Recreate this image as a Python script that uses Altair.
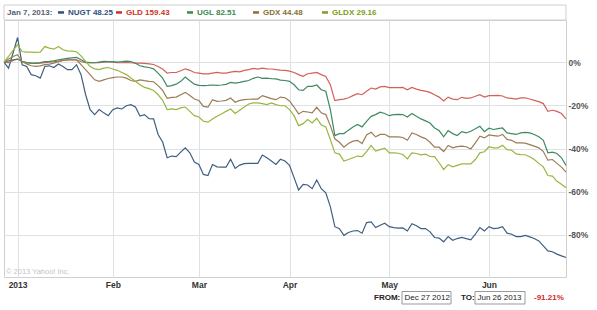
import altair as alt
import pandas as pd

# trading-day index from Dec 27 2012 (0) to Jun 26 2013 (124)
days = list(range(125))

nugt = [0, -2.8, 4.2, 11.4, -1.2, -2, -5.8, -6.3, -7.4, -2, -1.7, -2.5, -0.9, -2, -3.5, -3.5, -1.2, -5.8, -15, -22,
        -24.3, -22, -23.5, -24.8, -22, -21.2, -21.7, -20.2, -19.7, -20.8, -25,
        -24.3, -26.2, -26.3, -33.5, -37, -44.3, -43.5, -43.8, -41.7, -39.7, -42, -46.3, -47.4, -52, -52.5, -47.4,
        -48.5, -48.6, -48.6, -45, -49.2, -47.7, -47, -46.9, -46.9, -46.9, -43, -44.3, -45.8, -47.4, -45,
        -45.8, -47.8, -53.5, -59.2, -56.6, -56.9, -58.6, -54.6, -58.6, -60.5, -66.9, -76.2, -77.1, -80.2, -78.9,
        -78.2, -78, -79.2, -74.3, -74, -76.6, -75.5, -74.6, -76.2, -76.6, -76.9, -76.8, -78.2, -74.8, -75.8, -77.1,
        -77.1, -78.6, -81.2, -81.5, -83.2, -80.8, -82.5, -81.7, -81.2, -81.7, -82.3, -79.7, -76.6, -78.2, -76.2,
        -77.1, -76.9, -76.2, -79.2, -79.7, -80.8, -80.8, -80.2, -80.9, -81.7, -82.8, -85.1, -87.4, -87.8, -88.9,
        -89.7, -90.5]

gld = [0, -0.2, 0.8, 1.4, 0.3, -0.2, -0.5, -0.6, -0.5, -0.2, 0, 0.2, 0.5, 0.8, 0.9, 1.1, 0.9, 0.3, -0.2, -0.2,
       -0.3, -0.2, 0, 0.2, 0, -0.2, -0.3, -0.2, -0.3, -0.5, -0.5,
       -0.6, -0.8, -1.1, -2, -3.2, -5.1, -4.8, -4.8, -4, -3.1, -3.8, -4.8, -5.1, -5.4, -5.4, -5.1, -4.8, -5.1, -5.1,
       -4.6, -4.3, -4.5, -3.8, -3.5, -2.9, -3.2, -2.8, -3.1, -3.2, -3.5, -3.7,
       -3.8, -4.2, -4.8, -5.8, -6.6, -5.4, -5.1, -4.8, -5.8, -6.6, -10.5, -17.8, -17.4, -17.1, -16.5, -15.5, -14.6,
       -15.1, -13.5, -12, -12.5, -11.5, -11.2, -11.8, -11.8, -11.8, -11.7, -12.8, -11.7, -12.5, -13.1,
       -13.4, -14, -15.1, -16.2, -18, -16.2, -17.1, -17.4, -16.3, -16.8, -16.6, -15.8, -15.1, -16.2, -15.5, -15.5,
       -15.4, -15.7, -16.6, -16.8, -17.1, -16.6, -16.5, -17.1, -17.7, -18.3, -19.2, -22.8, -22.3, -22.8, -23.8, -26.3]

ugl = [0, 0.6, 1.1, 1.4, 0.3, -0.2, -0.5, -0.5, -0.2, 0.2, 0.3, 0.6, 1.1, 1.4, 1.7, 2, 2.2, 1.1, 0, -0.2, -0.3,
       0, 0.3, 0.2, 0.2, 0, 0.2, 0.5, 0.3, -0.5, -1.7,
       -2.2, -2.5, -3.1, -5.1, -7.4, -11.2, -10.9, -10.2, -8.9, -6.9, -8.6, -10.2, -10.8, -10.9, -10.8, -10.6, -10.8,
       -10.6, -10.3, -9.4, -9.7, -9.4, -8.9, -8.5, -7.5, -6.9, -7.5, -7.4, -7.7, -7.8, -8.3,
       -8.5, -8.9, -10.5, -12.8, -13.1, -11.2, -11.2, -10.6, -12.8, -13.5, -22, -34, -33.1, -33.1, -31.5, -30, -28.9,
       -30, -27.4, -25.1, -24.3, -23.2, -23.8, -24.8, -24.3, -24.2, -24.3, -25.4, -23.8, -25.1, -26.3,
       -27.2, -28.2, -30.5, -31.7, -34.6, -31.7, -33.1, -34, -32.2, -32.8, -32, -30.9, -29.7, -32.2, -30.6, -31.2,
       -30.8, -30.5, -32.8, -33.1, -33.5, -32.8, -32.5, -32.8, -33.5, -34.6, -36.2, -42, -41.7, -42.3, -44.3, -47.8]

gdx = [0, 1.4, 2.6, 3.4, 0.3, -0.8, -1.7, -2, -1.7, -1.2, -0.9, -0.5, 0.2, 0.8, 1.1, 1.1, 1.1, -1.2, -3.5, -5.8,
       -8.2, -8.9, -8.2, -7.6, -7.2, -6.9, -6.9, -7.4, -8.5, -8.9, -8.2,
       -8.6, -8.9, -9.1, -10.9, -13.1, -16.8, -16.3, -16.2, -15.1, -14, -15.5, -17.1, -17.8, -20.5, -20.8, -17.4,
       -18.2, -18, -17.7, -16.6, -18.6, -17.7, -17.4, -17.2, -17.1, -17.1, -15.5, -16.2, -16.9, -17.4, -16.2,
       -16.5, -18, -20.8, -24, -22.8, -23.1, -23.5, -20.9, -23.5, -24.3, -29.4, -35.5, -37.1, -39.4, -37.7, -36.6,
       -36.2, -37.7, -33.7, -32.5, -34.6, -33.5, -33.4, -34.6, -34.6, -34.6, -34.9, -36.2, -32.8, -33.5, -34.6,
       -35.4, -37.1, -39.4, -39.4, -41.4, -38.6, -39.7, -39.1, -38.9, -39.2, -40.2, -37.4, -34.3, -35.1, -33.7, -34,
       -34.3, -33.5, -35.8, -36.2, -37.4, -37.4, -37.5, -38.2, -38.9, -39.7, -41.4, -45.4, -45.1, -46.9, -48.6, -50.9]

gldx = [0, 2.6, 5.4, 8, 4.9, 4.6, 4.6, 4.5, 4.6, 7.2, 6.5, 6, 7.2, 5.7, 5.2, 5.1, 4.8, 2.9, 0.3, -2, -3.1, -3.5,
        -2.8, -2.5, -3.2, -3.8, -4.8, -5.8, -7.4, -8.9, -10.5,
        -11.7, -12.3, -13.1, -15.1, -17.7, -22, -21.7, -22, -21.2, -20.8, -22.8, -24.8, -25.4, -27.4, -27.8, -26.3,
        -25.1, -24, -22.8, -21.7, -23.8, -22.3, -20.8, -19.4, -18.9, -18.9, -19.2, -19.7, -18.9, -19.7, -20.2,
        -20.2, -22, -24.8, -29.4, -28.5, -26.6, -28.2, -26, -29.1, -30, -35.8, -42, -42.6, -45.8, -45.1, -44.3,
        -43.5, -43.8, -41.4, -38.6, -41.2, -40.5, -39.8, -42, -42, -42.2, -42.8, -44.8, -42, -42.3, -42.9,
        -42.6, -43.7, -43.8, -46.6, -49.7, -47.5, -48.5, -47.8, -47.1, -47.1, -47.1, -45.1, -42, -41.5, -39.2,
        -39.7, -39.7, -38.5, -40.5, -40.8, -42.5, -42.8, -42.9, -43.8, -45.1, -46.9, -48.5, -52.5, -52.8, -55.2,
        -56.6, -58.2]

series_names = ["NUGT", "GLD", "UGL", "GDX", "GLDX"]
series_last = ["48.25", "159.43", "82.51", "44.48", "29.16"]
line_colors = ["#3f5f80", "#d0625a", "#3e8a62", "#9a7d55", "#9ab53f"]
label_colors = ["#2d5080", "#cc3322", "#3a8a4a", "#8a7030", "#7aa020"]

tick_days = [3, 24, 43, 63, 85, 107]
tick_labels = ["2013", "Feb", "Mar", "Apr", "May", "Jun"]
y_ticks = [0, -20, -40, -60, -80]

rows = []
for name, vals in zip(series_names, [nugt, gld, ugl, gdx, gldx]):
    for d, v in zip(days, vals):
        rows.append({"day": d, "pct": v, "series": name})
df = pd.DataFrame(rows)

label_expr = " : ".join(f"datum.value == {d} ? '{t}'" for d, t in zip(tick_days, tick_labels)) + " : ''"

FONT = "Liberation Sans"
GRID = "#dde2e7"

lines = alt.Chart(df).mark_line(strokeWidth=1.2).encode(
    x=alt.X("day:Q", scale=alt.Scale(domain=[0, 124], nice=False, zero=False),
            axis=alt.Axis(values=tick_days, labelExpr=label_expr, grid=True, gridColor=GRID,
                          domain=False, ticks=False, labelPadding=3, labelFont=FONT,
                          labelFontWeight="bold", labelFontSize=8.5, labelColor="#333",
                          title=None, labelFlush=False)),
    y=alt.Y("pct:Q", scale=alt.Scale(domain=[-99.5, 19.5], nice=False, zero=False),
            axis=alt.Axis(orient="right", values=y_ticks, labelExpr="datum.value + '%'", grid=True,
                          gridColor=GRID, domain=False, ticks=False, labelPadding=2, labelFont=FONT,
                          labelFontWeight="bold", labelFontSize=8.5, labelColor="#555", title=None)),
    color=alt.Color("series:N", scale=alt.Scale(domain=series_names, range=line_colors), legend=None),
    order=alt.Order("day:Q"),
)

one = pd.DataFrame({"a": [0]})
layers = [lines]

# legend box on top
layers.append(alt.Chart(one).mark_rect(fill="white", stroke="#cfcfcf", strokeWidth=1).encode(
    x=alt.value(0), x2=alt.value(562), y=alt.value(-15), y2=alt.value(0)))
layers.append(alt.Chart(one).mark_text(align="left", baseline="middle", font=FONT, fontWeight="bold",
                                       fontSize=8, color="#556070").encode(
    x=alt.value(3), y=alt.value(-7.5), text=alt.value("Jan 7, 2013:")))
swatch_x = [54, 112, 183, 249, 318]
for name, last, col, lcol, sx in zip(series_names, series_last, line_colors, label_colors, swatch_x):
    layers.append(alt.Chart(one).mark_rect(fill=lcol).encode(
        x=alt.value(sx), x2=alt.value(sx + 6), y=alt.value(-8.8), y2=alt.value(-6.3)))
    layers.append(alt.Chart(one).mark_text(align="left", baseline="middle", font=FONT, fontWeight="bold",
                                           fontSize=8, color=lcol).encode(
        x=alt.value(sx + 10), y=alt.value(-7.5), text=alt.value(f"{name} {last}")))

# copyright
layers.append(alt.Chart(one).mark_text(align="left", baseline="middle", font=FONT, fontSize=7.5,
                                       color="#c4c4c4").encode(
    x=alt.value(2), y=alt.value(252), text=alt.value("© 2013 Yahoo! Inc.")))

# FROM / TO controls
layers.append(alt.Chart(one).mark_text(align="left", baseline="middle", font=FONT, fontWeight="bold",
                                       fontSize=8, color="#222").encode(
    x=alt.value(370), y=alt.value(278), text=alt.value("FROM:")))
layers.append(alt.Chart(one).mark_rect(fill="white", stroke="#999", strokeWidth=1).encode(
    x=alt.value(398), x2=alt.value(447), y=alt.value(271.5), y2=alt.value(284)))
layers.append(alt.Chart(one).mark_text(align="left", baseline="middle", font=FONT, fontSize=8,
                                       color="#222").encode(
    x=alt.value(400.5), y=alt.value(278), text=alt.value("Dec 27 2012")))
layers.append(alt.Chart(one).mark_text(align="left", baseline="middle", font=FONT, fontWeight="bold",
                                       fontSize=8, color="#222").encode(
    x=alt.value(457), y=alt.value(278), text=alt.value("TO:")))
layers.append(alt.Chart(one).mark_rect(fill="white", stroke="#999", strokeWidth=1).encode(
    x=alt.value(471), x2=alt.value(521), y=alt.value(271.5), y2=alt.value(284)))
layers.append(alt.Chart(one).mark_text(align="left", baseline="middle", font=FONT, fontSize=8,
                                       color="#222").encode(
    x=alt.value(473.5), y=alt.value(278), text=alt.value("Jun 26 2013")))
layers.append(alt.Chart(one).mark_text(align="left", baseline="middle", font=FONT, fontWeight="bold",
                                       fontSize=8, color="#cc2a2a").encode(
    x=alt.value(530), y=alt.value(278), text=alt.value("-91.21%")))

chart = alt.layer(*layers).properties(
    width=562, height=257,
    padding={"left": 4, "top": 20, "right": 31, "bottom": 33},
    autosize=alt.AutoSizeParams(type="none"),
    background="white",
).configure_view(stroke="#cfcfcf", strokeWidth=1)

chart.save("out.html", embed_options={"renderer": "svg", "actions": False})
